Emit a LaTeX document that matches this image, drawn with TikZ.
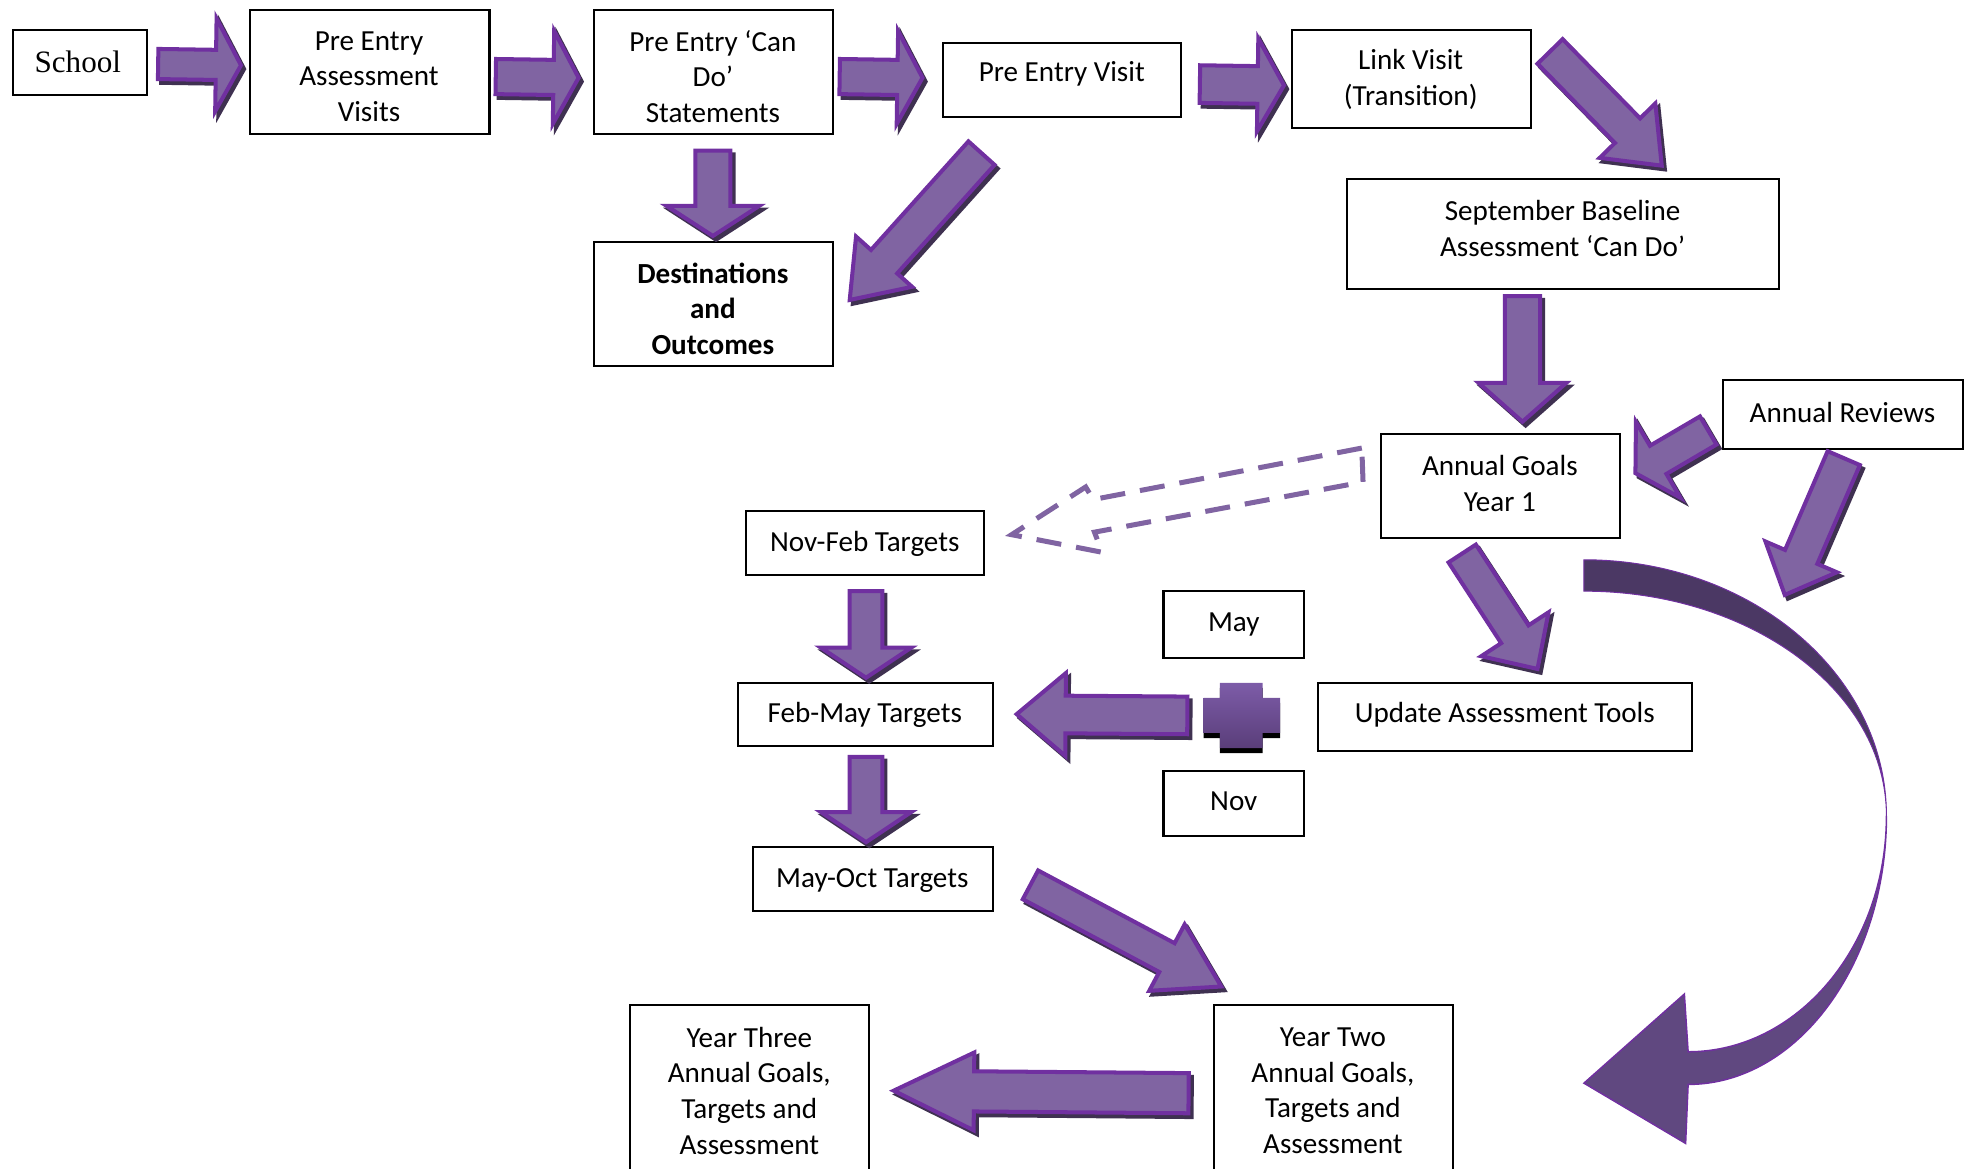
\documentclass[tikz,border=0pt]{standalone}
\usepackage{fontspec}
\setmainfont{Carlito}
\newfontfamily\timesf{Liberation Serif}
\usetikzlibrary{fit}
\definecolor{afill}{RGB}{128,100,162}
\definecolor{aline}{RGB}{112,48,160}
\definecolor{ashad}{RGB}{63,49,81}
\definecolor{plustop}{RGB}{125,92,168}
\definecolor{plusbot}{RGB}{90,62,122}
\definecolor{ribdark}{RGB}{75,56,100}
\definecolor{ribmid}{RGB}{96,72,128}
\tikzset{
  box/.style={draw=black, line width=0.8pt, fill=white, inner sep=0pt},
  txt/.style={align=center, inner sep=0pt, font=\fontsize{11.6}{14.25}\selectfont},
  abody/.style={fill=afill, draw=aline, line width=1.6pt, line join=miter},
  ashadow/.style={fill=ashad, draw=ashad, line width=1.6pt, line join=miter},
  dasharrow/.style={draw=afill, line width=2pt, dash pattern=on 10pt off 6pt},
}
% block arrow: tail x, tail y, tip x, tip y, body half-width, head half-width, head length
\newcommand\barrow[7]{%
  \pgfmathsetmacro\bang{atan2(-(#4-#2),#3-#1)}%
  \pgfmathsetmacro\blen{veclen(#3-#1,#4-#2)}%
  \pgfmathsetmacro\bneck{\blen-#7}%
  \begin{scope}[shift={(#1+2.5,#2+3)},rotate=\bang]
    \filldraw[ashadow] (0,-#5) -- (\bneck,-#5) -- (\bneck,-#6) -- (\blen,0) -- (\bneck,#6) -- (\bneck,#5) -- (0,#5) -- cycle;
  \end{scope}
  \begin{scope}[shift={(#1,#2)},rotate=\bang]
    \filldraw[abody] (0,-#5) -- (\bneck,-#5) -- (\bneck,-#6) -- (\blen,0) -- (\bneck,#6) -- (\bneck,#5) -- (0,#5) -- cycle;
  \end{scope}}
\begin{document}
\begin{tikzpicture}[x=0.5pt,y=-0.5pt]
\useasboundingbox (0,0) rectangle (1568,931);
\clip (0,0) rectangle (1568,931);

% boxes
\node[box, fit={(10,24) (117,76)}] (school) {};
\node[box, fit={(199,8) (390,107)}] (peav) {};
\node[box, fit={(473,8) (664,107)}] (pecd) {};
\node[box, fit={(751,34) (941,93)}] (pev) {};
\node[box, fit={(1029,24) (1220,102)}] (lv) {};
\node[box, fit={(473,193) (664,292)}] (dest) {};
\node[box, fit={(1073,143) (1417,230)}] (sept) {};
\node[box, fit={(1373,303) (1564,358)}] (ar) {};
\node[box, fit={(1100,346) (1291,429)}] (ag) {};
\node[box, fit={(594,407) (784,458)}] (nf) {};
\node[box, fit={(927,471) (1039,524)}] (may) {};
\node[box, fit={(588,544) (791,594)}] (fm) {};
\node[box, fit={(1050,544) (1348,598)}] (uat) {};
\node[box, fit={(927,614) (1039,666)}] (nov) {};
\node[box, fit={(600,675) (791,726)}] (mo) {};
\node[box, fit={(502,801) (692,945)}] (y3) {};
\node[box, fit={(967,801) (1158,945)}] (y2) {};

% texts
\node[inner sep=0pt, font=\timesf\fontsize{12.4}{15}\selectfont] (schoolt) at (62,49) {School};
\node[txt] (peavt) at (294,61) {Pre Entry\\Assessment\\Visits};
\node[txt] (pecdt) at (568,61) {Pre Entry ‘Can\\Do’\\Statements};
\node[txt] (pevt) at (846,58.5) {Pre Entry Visit};
\node[txt] (lvt) at (1124,63) {Link Visit\\(Transition)};
\node[txt, font=\bfseries\fontsize{11.6}{14.25}\selectfont] (destt) at (568,246) {Destinations\\and\\Outcomes};
\node[txt] (septt) at (1245,182) {September Baseline\\Assessment ‘Can Do’};
\node[txt] (art) at (1468,328.5) {Annual Reviews};
\node[txt] (agt) at (1195,385) {Annual Goals\\Year 1};
\node[txt] (nft) at (689,433.5) {Nov-Feb Targets};
\node[txt] (mayt) at (983,497.5) {May};
\node[txt] (fmt) at (689,569.5) {Feb-May Targets};
\node[txt] (uatt) at (1199,569.5) {Update Assessment Tools};
\node[txt] (novt) at (983,638.5) {Nov};
\node[txt] (mot) at (695,701.5) {May-Oct Targets};
\node[txt] (y3t) at (597,869) {Year Three\\Annual Goals,\\Targets and\\Assessment};
\node[txt] (y2t) at (1062,869) {Year Two\\Annual Goals,\\Targets and\\Assessment};

% curved ribbon arrow
\fill[ribdark, draw=aline, line width=0.4pt] (1262,446) .. controls (1395,446) and (1503,537) .. (1503,650)
   .. controls (1503,551) and (1395,471) .. (1262,471) -- cycle;
\fill[ribmid, draw=aline, line width=0.6pt] (1503,650) .. controls (1503,768) and (1432,864) .. (1345,864)
   -- (1343,911) -- (1262,863) -- (1342,792) -- (1345,838)
   .. controls (1432,838) and (1503,754) .. (1503,650) -- cycle;

% block arrows
\barrow{126}{51}{192}{52}{12}{37}{20}
\barrow{395}{61}{461}{62}{14}{37}{20}
\barrow{669}{61}{735}{62}{14}{37}{20}
\barrow{956}{67}{1023}{68}{15}{37}{21}
\barrow{1235}{41}{1324}{132}{14}{31}{39}
\barrow{782}{122}{677}{239}{14}{30}{41}
\barrow{568}{120}{568}{188}{14}{37}{24}
\barrow{1213}{236}{1213}{336}{14}{35}{31}
\barrow{1361}{343}{1303}{377}{13}{35}{21}
\barrow{1469}{365}{1422}{474}{14}{31}{33}
\barrow{1165}{441}{1225}{533}{13}{32}{33}
\barrow{690}{471}{690}{540}{13}{36}{24}
\barrow{690}{603}{690}{671}{13}{36}{24}
\barrow{946}{570}{810}{569}{15}{33}{39}
\barrow{821}{705}{973}{786}{13}{30}{49}
\barrow{947}{871}{712}{869}{16}{31}{64}

% dashed outline arrow
\draw[dasharrow, line join=miter] (1085,357) -- (871,398) -- (865,388) -- (806,426) -- (878,440) -- (872,424) -- (1086,384) -- cycle;

% plus sign
\fill[black] (972,548) -- (1006,548) -- (1006,560) -- (1020,560) -- (1020,588) -- (1006,588) -- (1006,600) -- (972,600) -- (972,588) -- (959,588) -- (959,560) -- (972,560) -- cycle;
\shade[top color=plustop, bottom color=plusbot] (972,544) -- (1006,544) -- (1006,556) -- (1020,556) -- (1020,584) -- (1006,584) -- (1006,596) -- (972,596) -- (972,584) -- (959,584) -- (959,556) -- (972,556) -- cycle;
\end{tikzpicture}
\end{document}
